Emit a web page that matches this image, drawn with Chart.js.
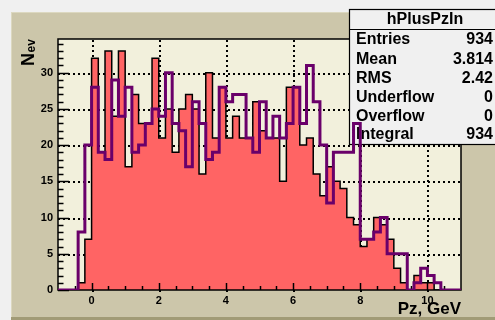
<!DOCTYPE html>
<html>
<head>
<meta charset="utf-8">
<script src="https://cdn.jsdelivr.net/npm/chart.js@4.4.1/dist/chart.umd.min.js"></script>
<style>
  html, body { margin: 0; padding: 0; background: #f0f0f0; }
</style>
</head>
<body>
<canvas id="pzChart" width="495" height="320"></canvas>
<script>
// histogram binning: 60 bins of 0.2 GeV from -1 to 11
const xMin = -1;
const binWidth = 0.2;

// filled red histogram (hPlusPzIn)
const redCounts = [
  0, 0, 0, 1, 7, 32, 19, 33, 24, 33,
  17, 27, 23, 23, 32, 21, 25, 19, 25, 27,
  25, 16, 30, 21, 28, 21, 24, 21, 21, 26,
  22, 21, 21, 15, 28, 28, 20, 21, 16, 13,
  17, 15, 14, 10, 9, 6, 7, 10, 9, 7,
  3, 1, 0, 2, 1, 1, 0, 0, 0, 0
];

// purple outline histogram
const purpleCounts = [
  0, 0, 0, 8, 20, 28, 19, 18, 29, 24,
  28, 19, 20, 23, 25, 24, 30, 23, 22, 17,
  26, 23, 18, 19, 28, 26, 27, 27, 21, 19,
  26, 21, 24, 21, 23, 28, 23, 31, 26, 20,
  12, 19, 19, 19, 23, 7, 7, 8, 10, 5,
  5, 5, 0, 1, 3, 2, 1, 0, 0, 0
];

const xTickValues = [0, 2, 4, 6, 8, 10];
const yTickValues = [0, 5, 10, 15, 20, 25, 30];
const xMinorStep = 0.5;
const yMinorStep = 1;

const statsTitle = 'hPlusPzIn';
const statsLabels = ['Entries', 'Mean', 'RMS', 'Underflow', 'Overflow', 'Integral'];
const statsValues = ['934', '3.814', '2.42', '0', '0', '934'];

const FONT = "'Liberation Sans', Arial, sans-serif";

// left bin edges + closing edge, drawn with stepped lines
function toSteps(counts) {
  const pts = counts.map((c, i) => ({ x: xMin + i * binWidth, y: c }));
  pts.push({ x: xMin + counts.length * binWidth, y: counts[counts.length - 1] });
  return pts;
}

// dotted line made of small squares, so it never depends on line dashes
function dottedLine(ctx, x0, y0, x1, y1) {
  const len = Math.hypot(x1 - x0, y1 - y0);
  const n = Math.floor(len / 5);
  for (let i = 0; i <= n; i++) {
    const t = (i * 5) / len;
    ctx.fillRect(Math.round(x0 + (x1 - x0) * t), Math.round(y0 + (y1 - y0) * t), 2, 2);
  }
}

const rootLook = {
  id: 'rootLook',
  beforeDraw(chart) {
    const { ctx, chartArea: a, scales } = chart;
    ctx.save();
    ctx.fillStyle = '#f0f0f0';
    ctx.fillRect(0, 0, 495, 320);
    ctx.fillStyle = '#ccc6aa';
    ctx.fillRect(11, 12, 484, 308);
    ctx.fillStyle = '#dcd8c0';
    ctx.fillRect(11, 12, 484, 1);
    ctx.fillRect(11, 12, 1, 308);
    ctx.fillStyle = '#a19b76';
    ctx.fillRect(11, 317, 484, 3);
    ctx.fillStyle = '#f2f0dc';
    ctx.fillRect(a.left, a.top, a.right - a.left, a.bottom - a.top);

    // dotted grid at the labelled ticks, under the histograms
    ctx.fillStyle = '#000';
    xTickValues.forEach(v => {
      const px = Math.round(scales.x.getPixelForValue(v));
      dottedLine(ctx, px, a.bottom, px, a.top);
    });
    yTickValues.forEach(v => {
      if (v === 0) return;
      const py = Math.round(scales.y.getPixelForValue(v));
      dottedLine(ctx, a.left, py, a.right, py);
    });
    ctx.restore();
  },
  afterDatasetDraw(chart, args) {
    if (args.index !== 0) return;
    const { ctx, chartArea: a, scales } = chart;
    ctx.save();
    // frame
    ctx.strokeStyle = '#000';
    ctx.lineWidth = 1.5;
    ctx.strokeRect(a.left, a.top, a.right - a.left, a.bottom - a.top);
    // ticks, inside the frame
    for (let v = 0; v <= scales.y.max + 1e-6; v += yMinorStep) {
      const py = Math.round(scales.y.getPixelForValue(v)) + 0.5;
      const len = v % 5 === 0 ? 11 : 5.5;
      ctx.beginPath(); ctx.moveTo(a.left, py); ctx.lineTo(a.left + len, py); ctx.stroke();
    }
    for (let v = -0.5; v < scales.x.max; v += xMinorStep) {
      const px = Math.round(scales.x.getPixelForValue(v)) + 0.5;
      const len = xTickValues.includes(v) ? 7 : 4;
      ctx.beginPath(); ctx.moveTo(px, a.bottom); ctx.lineTo(px, a.bottom - len); ctx.stroke();
    }
    // stats box
    const bx = 349, by = 9, bw = 147, bh = 135;
    ctx.fillStyle = '#f0f0f0';
    ctx.fillRect(bx, by, bw, bh);
    ctx.lineWidth = 1.2;
    ctx.strokeRect(bx + 0.5, by + 0.5, bw, bh);
    ctx.beginPath(); ctx.moveTo(bx, 29.5); ctx.lineTo(bx + bw, 29.5); ctx.stroke();
    ctx.fillStyle = '#000';
    ctx.font = 'bold 16px ' + FONT;
    ctx.textAlign = 'center';
    ctx.textBaseline = 'alphabetic';
    ctx.fillText(statsTitle, 425, 24);
    const rowY = [44, 64, 83, 102, 121, 139];
    statsLabels.forEach((lab, i) => {
      ctx.textAlign = 'left';
      ctx.fillText(lab, 356, rowY[i]);
      ctx.textAlign = 'right';
      ctx.fillText(statsValues[i], 493, rowY[i]);
    });
    ctx.restore();
  },
  afterDraw(chart) {
    const { ctx } = chart;
    ctx.save();
    ctx.fillStyle = '#000';
    // x title
    ctx.font = 'bold 17px ' + FONT;
    ctx.textAlign = 'right';
    ctx.textBaseline = 'alphabetic';
    ctx.fillText('Pz, GeV', 461, 314);
    // y title N_ev, rotated
    ctx.translate(34, 66);
    ctx.rotate(-Math.PI / 2);
    ctx.textAlign = 'left';
    ctx.font = 'bold 18px ' + FONT;
    ctx.fillText('N', 0, 0);
    const nw = ctx.measureText('N').width;
    ctx.font = 'bold 12px ' + FONT;
    ctx.fillText('ev', nw + 0.5, 1);
    ctx.restore();
  }
};

const ctx = document.getElementById('pzChart').getContext('2d');

const pzChart = new Chart(ctx, {
  type: 'line',
  data: {
    datasets: [
      {
        label: 'hPlusPzIn',
        data: toSteps(redCounts),
        stepped: true,
        fill: 'origin',
        backgroundColor: '#ff6464',
        borderColor: '#000000',
        borderWidth: 1.5,
        borderJoinStyle: 'miter',
        pointRadius: 0,
        order: 2
      },
      {
        label: 'second',
        data: toSteps(purpleCounts),
        stepped: true,
        fill: false,
        borderColor: '#6a006a',
        borderWidth: 3,
        borderJoinStyle: 'miter',
        pointRadius: 0,
        order: 1
      }
    ]
  },
  options: {
    responsive: false,
    animation: false,
    layout: { padding: { left: 0, right: 34, top: 39, bottom: 0 } },
    plugins: {
      legend: { display: false },
      tooltip: { enabled: false }
    },
    scales: {
      x: {
        type: 'linear',
        min: -1,
        max: 11,
        afterBuildTicks: s => { s.ticks = xTickValues.map(v => ({ value: v })); },
        afterFit: s => { s.height = 30; },
        grid: { display: false, drawTicks: false },
        border: { display: false },
        ticks: { color: '#000', padding: 4, maxRotation: 0, font: { family: FONT, size: 11, weight: 'bold' } }
      },
      y: {
        min: 0,
        max: 34.65,
        afterBuildTicks: s => { s.ticks = yTickValues.map(v => ({ value: v })); },
        afterFit: s => { s.width = 58; },
        grid: { display: false, drawTicks: false },
        border: { display: false },
        ticks: { color: '#000', padding: 5, font: { family: FONT, size: 11, weight: 'bold' } }
      }
    }
  },
  plugins: [rootLook]
});
</script>
</body>
</html>
